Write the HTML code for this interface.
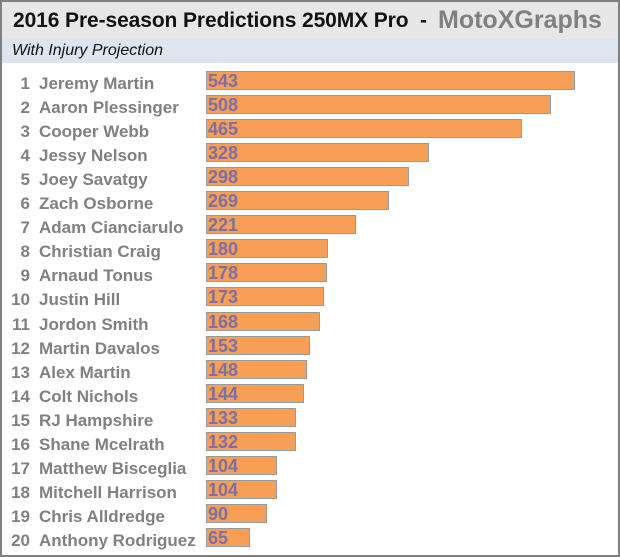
<!DOCTYPE html>
<html><head><style>
html,body{margin:0;padding:0;}
body{width:620px;height:557px;position:relative;background:#fff;font-family:"Liberation Sans",sans-serif;overflow:hidden;}
#frame{position:absolute;left:0;top:0;width:616px;height:553px;border:2px solid #7f7f7f;}
#t{position:absolute;left:2px;top:2px;width:616px;height:37px;background:#e7e7e7;}
#t span{position:absolute;left:11px;top:7px;font-size:21px;font-weight:bold;color:#111;white-space:nowrap;letter-spacing:-0.1px}
#t b{color:#808080;font-size:25px;position:absolute;left:436px;top:4px;white-space:nowrap;letter-spacing:0px}
#s{position:absolute;left:2px;top:39px;width:616px;height:24px;background:#dfe5f0;}
#s span{position:absolute;left:10px;top:3px;font-size:16px;font-style:italic;color:#111;}
.n{position:absolute;width:30px;text-align:right;font-size:17px;font-weight:bold;color:#808080;}
.l{position:absolute;left:39px;font-size:17px;font-weight:bold;color:#808080;white-space:nowrap;letter-spacing:0px}
.b{position:absolute;left:206px;height:17px;background:#f79f57;border:1px solid #9a9a9a;}
.b span{position:absolute;left:1px;top:-1px;font-size:18px;font-weight:bold;color:#7b6fa8;}
</style></head><body>
<div id="frame"></div>
<div id="t"><span>2016 Pre-season Predictions 250MX Pro&nbsp; -</span><b>MotoXGraphs</b></div>
<div id="s"><span>With Injury Projection</span></div>
<div id="rows"></div>
<script>
var d=[["Jeremy Martin",543],["Aaron Plessinger",508],["Cooper Webb",465],["Jessy Nelson",328],["Joey Savatgy",298],["Zach Osborne",269],["Adam Cianciarulo",221],["Christian Craig",180],["Arnaud Tonus",178],["Justin Hill",173],["Jordon Smith",168],["Martin Davalos",153],["Alex Martin",148],["Colt Nichols",144],["RJ Hampshire",133],["Shane Mcelrath",132],["Matthew Bisceglia",104],["Mitchell Harrison",104],["Chris Alldredge",90],["Anthony Rodriguez",65]];
var h="";
d.forEach(function(r,i){var y=71+24.05*i;
h+='<div class="n" style="left:0;top:'+(y+3)+'px">'+(i+1)+'</div>';
h+='<div class="l" style="top:'+(y+3)+'px">'+r[0]+'</div>';
h+='<div class="b" style="top:'+y+'px;width:'+Math.round(r[1]*0.68-2)+'px"><span>'+r[1]+'</span></div>';});
document.getElementById("rows").innerHTML=h;
</script>
</body></html>
